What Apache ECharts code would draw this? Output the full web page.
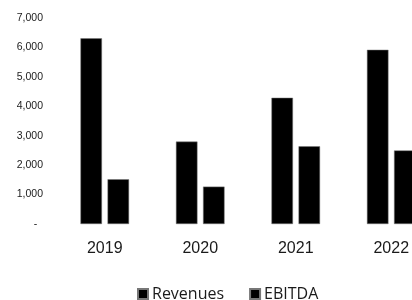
<!DOCTYPE html>
<html>
<head>
<meta charset="utf-8">
<script src="https://cdn.jsdelivr.net/npm/echarts@6/dist/echarts.min.js"></script>
<style>
  html, body { margin: 0; padding: 0; background: #fff; }
  #chart { width: 412px; height: 300px; }
</style>
</head>
<body>
<div id="chart"></div>
<script>
// values
const years = ['2019', '2020', '2021', '2022']
const revenues = [6310, 2800, 4290, 5920]
const ebitda = [1520, 1270, 2640, 2500]
const seriesNames = ['Revenues', 'EBITDA']

const textColor = '#1a1a1a'
const fontFamily = '"Liberation Sans", Arial, sans-serif'

const chart = echarts.init(document.getElementById('chart'))

chart.setOption({
  animation: false,
  textStyle: { fontFamily: fontFamily },
  legend: {
    data: seriesNames,
    left: 132,
    top: 281,
    icon: 'rect',
    itemWidth: 10,
    itemHeight: 10,
    itemGap: 25,
    textStyle: { color: textColor, fontSize: 16, fontFamily: '"Open Sans", sans-serif', padding: [0, 0, 0, -1] }
  },
  // plot runs past the right edge, as in the reference
  grid: {
    left: 57,
    top: 18,
    right: -27,
    height: 206,
    containLabel: false,
    outerBoundsMode: 'none'
  },
  xAxis: {
    type: 'category',
    data: years,
    axisLine: { show: false },
    axisTick: { show: false },
    axisLabel: { color: textColor, fontSize: 16, margin: 17 }
  },
  yAxis: {
    type: 'value',
    min: 0,
    max: 7000,
    interval: 1000,
    splitLine: { show: false },
    axisLine: { show: false },
    axisTick: { show: false },
    axisLabel: {
      color: textColor,
      fontSize: 10.5,
      margin: 14,
      formatter: function (v) {
        return v === 0 ? '-  ' : v.toLocaleString('en-US')
      }
    }
  },
  series: [
    {
      name: seriesNames[0],
      type: 'bar',
      data: revenues,
      barWidth: 21.5,
      barGap: '26%',
      itemStyle: { color: '#000', borderColor: '#777', borderWidth: 0.5 }
    },
    {
      name: seriesNames[1],
      type: 'bar',
      data: ebitda,
      barWidth: 21.5,
      itemStyle: { color: '#000', borderColor: '#777', borderWidth: 0.5 }
    }
  ]
})
</script>
</body>
</html>
